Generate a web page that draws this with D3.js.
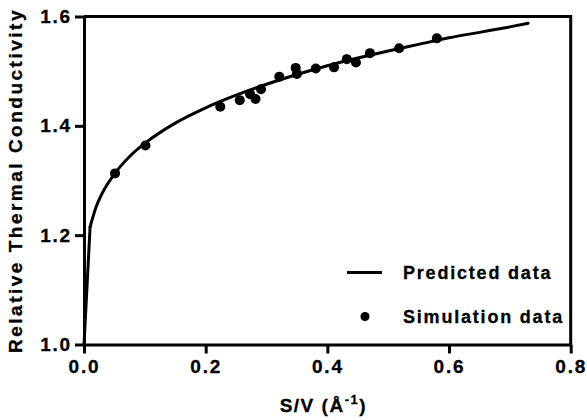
<!DOCTYPE html>
<html>
<head>
<meta charset="utf-8">
<script src="https://cdn.jsdelivr.net/npm/d3@7"></script>
<style>
  body { margin: 0; background: #fff; }
  text { font-family: "Liberation Sans", Arial, sans-serif; font-weight: bold; fill: #000; stroke: #000; stroke-width: 0.3px; }
</style>
</head>
<body>
<div id="chart"></div>
<script>
// data
var predX = [0, 0.01, 0.02, 0.03, 0.05, 0.075, 0.1, 0.15, 0.2, 0.25, 0.3, 0.35, 0.4, 0.45, 0.5, 0.55, 0.6, 0.65, 0.7, 0.73];
var predY = [1.0, 1.215, 1.252, 1.277, 1.312, 1.344, 1.368, 1.405, 1.433, 1.456, 1.476, 1.494, 1.510, 1.524, 1.537, 1.549, 1.561, 1.571, 1.581, 1.5875];

var simX = [0.051, 0.101, 0.224, 0.256, 0.273, 0.282, 0.291, 0.321, 0.348, 0.350, 0.381, 0.411, 0.432, 0.447, 0.470, 0.518, 0.580];
var simY = [1.313, 1.364, 1.435, 1.447, 1.458, 1.449, 1.467, 1.490, 1.506, 1.495, 1.505, 1.507, 1.522, 1.516, 1.533, 1.542, 1.560];

var xTicks = [0, 0.2, 0.4, 0.6, 0.8];
var yTicks = [1.0, 1.2, 1.4, 1.6];
var legendLabels = ["Predicted data", "Simulation data"];

// dimensions
var svgWidth = 587;
var svgHeight = 420;
var margin = { top: 16.5, left: 84, right: 16.3, bottom: 75.5 };
var plotWidth = svgWidth - margin.left - margin.right;
var plotHeight = svgHeight - margin.top - margin.bottom;

var svg = d3.select("#chart")
    .append("svg")
    .attr("width", svgWidth)
    .attr("height", svgHeight);

var chartGroup = svg.append("g")
    .attr("transform", `translate(${margin.left}, ${margin.top})`);

var xScale = d3.scaleLinear().domain([0, 0.8]).range([0, plotWidth]);
var yScale = d3.scaleLinear().domain([1.0, 1.6]).range([plotHeight, 0]);

// frame (top and right)
chartGroup.append("path")
    .attr("d", `M0,0H${plotWidth}V${plotHeight}`)
    .attr("fill", "none")
    .attr("stroke", "#000")
    .attr("stroke-width", 3);

var bottomAxis = d3.axisBottom(xScale).tickValues(xTicks).tickFormat(d3.format(".1f"))
    .tickSizeInner(9).tickSizeOuter(0).tickPadding(6);
var leftAxis = d3.axisLeft(yScale).tickValues(yTicks).tickFormat(d3.format(".1f"))
    .tickSizeInner(9).tickSizeOuter(0).tickPadding(3);

var xAxisG = chartGroup.append("g")
    .attr("transform", `translate(0, ${plotHeight})`)
    .call(bottomAxis);
var yAxisG = chartGroup.append("g").call(leftAxis);

[xAxisG, yAxisG].forEach(function(g) {
    g.select(".domain").attr("stroke-width", 3);
    g.selectAll(".tick line").attr("stroke-width", 3);
    g.selectAll(".tick text")
        .attr("font-size", 19)
        .attr("font-family", null)
        .style("letter-spacing", "1.8px");
});

// predicted curve: straight rise to the first point, smooth afterwards
var predData = predX.map((x, i) => [x, predY[i]]);
var line = d3.line()
    .x(d => xScale(d[0]))
    .y(d => yScale(d[1]));

chartGroup.append("path")
    .datum(predData.slice(0, 2))
    .attr("d", line)
    .attr("fill", "none")
    .attr("stroke", "#000")
    .attr("stroke-width", 3)
    .attr("stroke-linecap", "round");

chartGroup.append("path")
    .datum(predData.slice(1))
    .attr("d", line.curve(d3.curveMonotoneX))
    .attr("fill", "none")
    .attr("stroke", "#000")
    .attr("stroke-width", 3)
    .attr("stroke-linecap", "round");

// simulation points
chartGroup.selectAll(".sim")
    .data(simX.map((x, i) => [x, simY[i]]))
    .enter()
    .append("circle")
    .attr("class", "sim")
    .attr("cx", d => xScale(d[0]))
    .attr("cy", d => yScale(d[1]))
    .attr("r", 5)
    .attr("fill", "#000");

// axis titles
svg.append("text")
    .attr("transform", `translate(22, ${margin.top + plotHeight / 2}) rotate(-90)`)
    .attr("text-anchor", "middle")
    .attr("font-size", 19)
    .style("letter-spacing", "2.5px")
    .text("Relative Thermal Conductivity");

var xTitle = svg.append("text")
    .attr("x", margin.left + plotWidth / 2 - 4)
    .attr("y", 412)
    .attr("text-anchor", "middle")
    .attr("font-size", 19)
    .style("letter-spacing", "1.5px");
xTitle.append("tspan").text("S/V (Å");
xTitle.append("tspan").attr("font-size", 13).attr("dy", -8).text("-1");
xTitle.append("tspan").attr("dy", 8).text(")");

// legend
var legend = svg.append("g");
legend.append("line")
    .attr("x1", 347).attr("x2", 382)
    .attr("y1", 272.5).attr("y2", 272.5)
    .attr("stroke", "#000")
    .attr("stroke-width", 3);
legend.append("circle")
    .attr("cx", 365).attr("cy", 316.5)
    .attr("r", 4.5)
    .attr("fill", "#000");
legend.selectAll(".lab")
    .data(legendLabels)
    .enter()
    .append("text")
    .attr("class", "lab")
    .attr("x", 403)
    .attr("y", (d, i) => 279 + i * 44)
    .attr("font-size", 18)
    .style("letter-spacing", "1.8px")
    .text(d => d);
</script>
</body>
</html>
